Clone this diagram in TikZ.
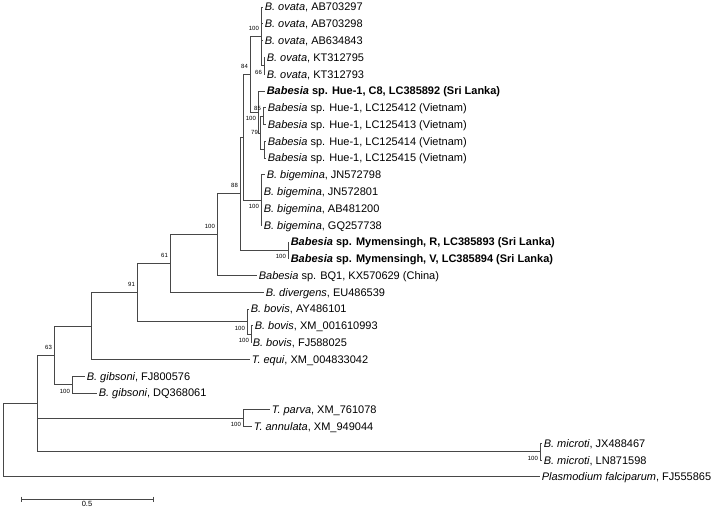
\documentclass[tikz,border=0pt]{standalone}
\usepackage{fontspec}
\setmainfont{Liberation Sans}
\usetikzlibrary{calc}
\newcommand{\sci}[1]{\textit{#1}}
\newcommand{\pTaxon}[2]{\sci{#1}, #2}

\begin{document}
\begin{tikzpicture}[x=1pt,y=-1pt,
  branch/.style={draw=black!72, line width=0.75pt},
  leaf/.style={anchor=west, inner sep=1.6pt, font={\fontsize{11}{13}\selectfont}, text height=8pt, text depth=0pt},
  bsup/.style={anchor=east, inner sep=0.4pt, font={\fontsize{6}{7}\selectfont}, xshift=-1.5pt, yshift=8pt},
  bsdown/.style={anchor=east, inner sep=0.4pt, font={\fontsize{6}{7}\selectfont}, xshift=-1.5pt, yshift=-6.5pt}]
\useasboundingbox (0,0) rectangle (720,510);
% internal nodes
\coordinate (root) at (3,440.2);
\coordinate (n37) at (37,403.5);
\coordinate (n63) at (54,355.3);
\coordinate (nX) at (91,326);
\coordinate (n91) at (137,292.6);
\coordinate (n61) at (170,263.5);
\coordinate (n100a) at (217,234.6);
\coordinate (n88) at (240,193.7);
\coordinate (nI) at (243,137.1);
\coordinate (n84) at (250,74.2);
\coordinate (nOv) at (261,36.4);
\coordinate (n66) at (264,65.7);
\coordinate (nHue) at (258,111.9);
\coordinate (nH2) at (260,132.9);
\coordinate (n85) at (263,116.1);
\coordinate (n79) at (264,149.6);
\coordinate (nBig) at (261,200);
\coordinate (nMym) at (288,250.3);
\coordinate (nBov) at (247,321.6);
\coordinate (nBov2) at (251,334.2);
\coordinate (nGib) at (72,384.6);
\coordinate (nTh) at (243,418.1);
\coordinate (nMi) at (540,451.7);
% taxa
\node[leaf] (ov1) at (263,7) {\pTaxon{B. ovata}{AB703297}};
\node[leaf] (ov2) at (263,23.8) {\pTaxon{B. ovata}{AB703298}};
\node[leaf] (ov3) at (263,40.6) {\pTaxon{B. ovata}{AB634843}};
\node[leaf] (ov4) at (265,57.3) {\pTaxon{B. ovata}{KT312795}};
\node[leaf] (ov5) at (265,74.1) {\pTaxon{B. ovata}{KT312793}};
\node[leaf] (hC8) at (265,90.9) {\textbf{\sci{Babesia} sp. Hue-1, C8, LC385892 (Sri Lanka)}};
\node[leaf] (h12) at (266,107.7) {\sci{Babesia} sp. Hue-1, LC125412 (Vietnam)};
\node[leaf] (h13) at (266,124.5) {\sci{Babesia} sp. Hue-1, LC125413 (Vietnam)};
\node[leaf] (h14) at (266,141.2) {\sci{Babesia} sp. Hue-1, LC125414 (Vietnam)};
\node[leaf] (h15) at (266,158) {\sci{Babesia} sp. Hue-1, LC125415 (Vietnam)};
\node[leaf] (bg1) at (265,174.8) {\pTaxon{B. bigemina}{JN572798}};
\node[leaf] (bg2) at (262,191.6) {\pTaxon{B. bigemina}{JN572801}};
\node[leaf] (bg3) at (262,208.4) {\pTaxon{B. bigemina}{AB481200}};
\node[leaf] (bg4) at (262,225.1) {\pTaxon{B. bigemina}{GQ257738}};
\node[leaf] (myR) at (289,241.9) {\textbf{\sci{Babesia} sp. Mymensingh, R, LC385893 (Sri Lanka)}};
\node[leaf] (myV) at (289,258.7) {\textbf{\sci{Babesia} sp. Mymensingh, V, LC385894 (Sri Lanka)}};
\node[leaf] (bq1) at (257,275.5) {\sci{Babesia} sp. BQ1, KX570629 (China)};
\node[leaf] (div) at (264,292.3) {\pTaxon{B. divergens}{EU486539}};
\node[leaf] (bv1) at (249,309) {\pTaxon{B. bovis}{AY486101}};
\node[leaf] (bv2) at (253,325.8) {\pTaxon{B. bovis}{XM\_001610993}};
\node[leaf] (bv3) at (251,342.6) {\pTaxon{B. bovis}{FJ588025}};
\node[leaf] (teq) at (250,359.4) {\pTaxon{T. equi}{XM\_004833042}};
\node[leaf] (gb1) at (85,376.2) {\pTaxon{B. gibsoni}{FJ800576}};
\node[leaf] (gb2) at (97,392.9) {\pTaxon{B. gibsoni}{DQ368061}};
\node[leaf] (tpa) at (270,409.7) {\pTaxon{T. parva}{XM\_761078}};
\node[leaf] (tan) at (252,426.5) {\pTaxon{T. annulata}{XM\_949044}};
\node[leaf] (mi1) at (542,443.3) {\pTaxon{B. microti}{JX488467}};
\node[leaf] (mi2) at (542,460.1) {\pTaxon{B. microti}{LN871598}};
\node[leaf] (pfa) at (540,476.8) {\pTaxon{Plasmodium falciparum}{FJ555865}};
% branches
\draw[branch] (root) |- (n37); \draw[branch] (root) |- (pfa);
\draw[branch] (n37) |- (n63); \draw[branch] (n37) |- (nTh); \draw[branch] (n37) |- (nMi);
\draw[branch] (n63) |- (nX); \draw[branch] (n63) |- (nGib);
\draw[branch] (nX) |- (n91); \draw[branch] (nX) |- (teq);
\draw[branch] (n91) |- (n61); \draw[branch] (n91) |- (nBov);
\draw[branch] (n61) |- (n100a); \draw[branch] (n61) |- (div);
\draw[branch] (n100a) |- (n88); \draw[branch] (n100a) |- (bq1);
\draw[branch] (n88) |- (nI); \draw[branch] (n88) |- (nMym);
\draw[branch] (nI) |- (n84); \draw[branch] (nI) |- (nBig);
\draw[branch] (n84) |- (nOv); \draw[branch] (n84) |- (nHue);
\draw[branch] (nOv) |- (ov1); \draw[branch] (nOv) |- (ov2); \draw[branch] (nOv) |- (ov3); \draw[branch] (nOv) |- (n66);
\draw[branch] (n66) |- (ov4); \draw[branch] (n66) |- (ov5);
\draw[branch] (nHue) |- (hC8); \draw[branch] (nHue) |- (nH2);
\draw[branch] (nH2) |- (n85); \draw[branch] (nH2) |- (n79);
\draw[branch] (n85) |- (h12); \draw[branch] (n85) |- (h13);
\draw[branch] (n79) |- (h14); \draw[branch] (n79) |- (h15);
\draw[branch] (nBig) |- (bg1); \draw[branch] (nBig) |- (bg2); \draw[branch] (nBig) |- (bg3); \draw[branch] (nBig) |- (bg4);
\draw[branch] (nMym) |- (myR); \draw[branch] (nMym) |- (myV);
\draw[branch] (nBov) |- (bv1); \draw[branch] (nBov) |- (nBov2);
\draw[branch] (nBov2) |- (bv2); \draw[branch] (nBov2) |- (bv3);
\draw[branch] (nGib) |- (gb1); \draw[branch] (nGib) |- (gb2);
\draw[branch] (nTh) |- (tpa); \draw[branch] (nTh) |- (tan);
\draw[branch] (nMi) |- (mi1); \draw[branch] (nMi) |- (mi2);
% bootstrap values
\node[bsup] (b63) at (n63) {63};
\node[bsup] (b91) at (n91) {91};
\node[bsup] (b61) at (n61) {61};
\node[bsup] (b100a) at (n100a) {100};
\node[bsup] (b88) at (n88) {88};
\node[bsup] (b84) at (n84) {84};
\node[bsup] (bOv) at (nOv) {100};
\node[bsdown] (b66) at (n66) {66};
\node[bsdown] (bHue) at (nHue) {100};
\node[bsup] (b85) at (n85) {85};
\node[bsup, yshift=-8pt] (b79) at (nH2) {79};
\node[bsdown] (bBig) at (nBig) {100};
\node[bsdown] (bMym) at (nMym) {100};
\node[bsdown] (bBov) at (nBov) {100};
\node[bsdown] (bBov2) at (nBov2) {100};
\node[bsdown] (bGib) at (nGib) {100};
\node[bsdown] (bTh) at (nTh) {100};
\node[bsdown] (bMi) at (nMi) {100};
% scale bar
\coordinate (sb1) at (21,499);
\coordinate (sb2) at (153,499);
\draw[branch] (sb1) -- (sb2);
\draw[branch] ([yshift=2.5pt]sb1) -- ([yshift=-2.5pt]sb1);
\draw[branch] ([yshift=2.5pt]sb2) -- ([yshift=-2.5pt]sb2);
\node[font={\fontsize{7.5}{8}\selectfont}, anchor=north, inner sep=2.5pt] (sbl) at ($(sb1)!0.5!(sb2)$) {0.5};
\end{tikzpicture}
\end{document}
